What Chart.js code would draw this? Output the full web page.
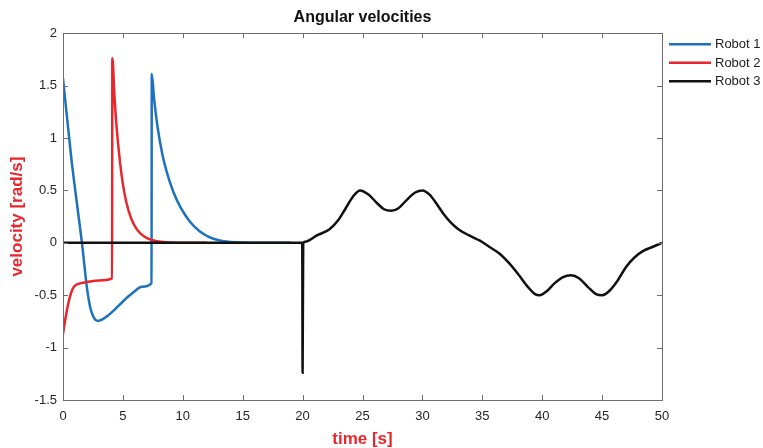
<!DOCTYPE html>
<html>
<head>
<style>
  body { margin: 0; background: #fff; }
  canvas { display: block; }
</style>
</head>
<body>
<canvas id="c" width="763" height="448"></canvas>
<script src="https://cdn.jsdelivr.net/npm/chart.js@4/dist/chart.umd.min.js"></script>
<script>
const robot1T = [0, 0.7, 1.6, 2.0, 2.3, 2.6, 2.9, 3.3, 3.8, 4.2, 5.0, 5.8, 6.6, 7.39, 7.41, 7.6, 7.9, 8.3, 8.7, 9.2, 9.8, 10.6, 11.4, 12.2, 13, 14, 15, 16, 19];
const robot1V = [1.57, 0.8, -0.02, -0.43, -0.63, -0.72, -0.745, -0.73, -0.69, -0.65, -0.56, -0.48, -0.42, -0.385, 1.61, 1.38, 1.1, 0.84, 0.66, 0.49, 0.34, 0.2, 0.11, 0.055, 0.025, 0.008, 0.002, 0, 0];

const robot2T = [0, 0.15, 0.3, 0.5, 0.8, 1.1, 1.5, 2, 3, 4.1, 4.12, 4.3, 4.5, 4.75, 5, 5.3, 5.7, 6.1, 6.5, 7, 7.5, 8, 9, 10, 12];
const robot2V = [-0.87, -0.76, -0.66, -0.55, -0.44, -0.40, -0.385, -0.375, -0.36, -0.34, 1.76, 1.39, 1.07, 0.78, 0.56, 0.38, 0.23, 0.14, 0.085, 0.045, 0.024, 0.012, 0.003, 0, 0];

const robot3T = [0, 19.97, 20.0, 20.05, 20.2, 21.2, 22.25, 23.0, 23.6, 24.2, 24.8, 25.5, 26.2, 26.8, 27.4, 28.0, 28.7, 29.4, 30.0, 30.6, 31.2, 31.8, 32.4, 33.0, 33.9, 34.8, 35.6, 36.4, 37.2, 38.0, 38.8, 39.4, 39.8, 40.4, 41.0, 41.7, 42.4, 43.1, 43.8, 44.5, 45.0, 45.6, 46.3, 47.0, 47.7, 48.4, 49.2, 50];
const robot3V = [0, 0, -1.24, 0, 0.01, 0.07, 0.13, 0.22, 0.33, 0.44, 0.5, 0.46, 0.38, 0.32, 0.305, 0.33, 0.41, 0.48, 0.5, 0.46, 0.37, 0.27, 0.19, 0.13, 0.07, 0.02, -0.04, -0.1, -0.19, -0.3, -0.42, -0.49, -0.5, -0.46, -0.39, -0.33, -0.31, -0.34, -0.42, -0.49, -0.5, -0.46, -0.36, -0.23, -0.14, -0.08, -0.04, 0];

const xTicks = [0, 5, 10, 15, 20, 25, 30, 35, 40, 45, 50];
const yTicks = [-1.5, -1, -0.5, 0, 0.5, 1, 1.5, 2];

const FONT = "'Liberation Sans', Arial, Helvetica, sans-serif";
const AXIS_GRAY = '#6e6e6e';
const RED = '#e8262b';

function pts(t, v) { return t.map((x, i) => ({x: x, y: v[i]})); }

// box around the axes with inward tick marks on all four sides (matlab style)
const frame = {
  id: 'frame',
  afterDatasetsDraw(chart) {
    const {ctx, chartArea: a} = chart;
    const xs = chart.scales.x, ys = chart.scales.y;
    ctx.save();
    ctx.strokeStyle = AXIS_GRAY;
    ctx.lineWidth = 1;
    ctx.strokeRect(Math.round(a.left) + 0.5, Math.round(a.top) + 0.5, Math.round(a.right - a.left), Math.round(a.bottom - a.top));
    ctx.beginPath();
    const len = 5;
    xs.ticks.forEach(t => {
      const px = Math.round(xs.getPixelForValue(t.value)) + 0.5;
      ctx.moveTo(px, a.bottom); ctx.lineTo(px, a.bottom - len);
      ctx.moveTo(px, a.top); ctx.lineTo(px, a.top + len);
    });
    ys.ticks.forEach(t => {
      const py = Math.round(ys.getPixelForValue(t.value)) + 0.5;
      ctx.moveTo(a.left, py); ctx.lineTo(a.left + len, py);
      ctx.moveTo(a.right, py); ctx.lineTo(a.right - len, py);
    });
    ctx.stroke();
    ctx.restore();
  }
};

// legend to the right of the axes, no box
const sideLegend = {
  id: 'sideLegend',
  afterDraw(chart) {
    const {ctx, chartArea: a} = chart;
    ctx.save();
    ctx.font = '13px ' + FONT;
    ctx.textBaseline = 'middle';
    chart.data.datasets.forEach((ds, k) => {
      const y = a.top + 11 + k * 18.5;
      ctx.strokeStyle = ds.borderColor;
      ctx.lineWidth = 2.5;
      ctx.beginPath();
      ctx.moveTo(a.right + 7, y); ctx.lineTo(a.right + 49, y);
      ctx.stroke();
      ctx.fillStyle = '#222';
      ctx.fillText(ds.label, a.right + 53, y + 0.5);
    });
    ctx.restore();
  }
};

const common = {
  pointRadius: 0,
  borderWidth: 2.5,
  fill: false,
  cubicInterpolationMode: 'monotone'
};

new Chart(document.getElementById('c').getContext('2d'), {
  type: 'line',
  data: {
    datasets: [
      // lower order is drawn on top: robot 3 over robot 2 over robot 1
      Object.assign({label: 'Robot 1', data: pts(robot1T, robot1V), borderColor: '#1c72bd', order: 2}, common),
      Object.assign({label: 'Robot 2', data: pts(robot2T, robot2V), borderColor: RED, order: 1}, common),
      Object.assign({label: 'Robot 3', data: pts(robot3T, robot3V), borderColor: '#111111', order: 0}, common)
    ]
  },
  options: {
    responsive: false,
    animation: false,
    layout: { padding: { left: 0, right: 101, top: 0, bottom: 0 } },
    plugins: {
      legend: { display: false },
      tooltip: { enabled: false },
      title: {
        display: true,
        fullSize: false,
        text: 'Angular velocities',
        color: '#111',
        font: { family: FONT, size: 16, weight: 'bold', lineHeight: 1.2 },
        padding: { top: 8, bottom: 6 }
      }
    },
    scales: {
      x: {
        type: 'linear',
        min: 0, max: 50,
        afterBuildTicks: s => { s.ticks = xTicks.map(v => ({value: v})); },
        afterFit: s => { s.height = 48; },
        grid: { display: false, drawTicks: false },
        border: { display: false },
        ticks: { color: '#262626', padding: 9, maxRotation: 0, font: { family: FONT, size: 13 }, callback: v => String(v) },
        title: {
          display: true, text: 'time [s]', color: RED,
          font: { family: FONT, size: 17, weight: 'bold', lineHeight: 1 },
          padding: { top: 0, bottom: 0 }
        }
      },
      y: {
        type: 'linear',
        min: -1.5, max: 2,
        afterBuildTicks: s => { s.ticks = yTicks.map(v => ({value: v})); },
        afterFit: s => { s.width = 63; },
        grid: { display: false, drawTicks: false },
        border: { display: false },
        ticks: { color: '#262626', padding: 6, font: { family: FONT, size: 13 }, callback: v => String(v) },
        title: {
          display: true, text: 'velocity [rad/s]', color: RED,
          font: { family: FONT, size: 17, weight: 'bold', lineHeight: 1 },
          padding: { top: 9, bottom: 0 }
        }
      }
    }
  },
  plugins: [frame, sideLegend]
});
</script>
</body>
</html>
